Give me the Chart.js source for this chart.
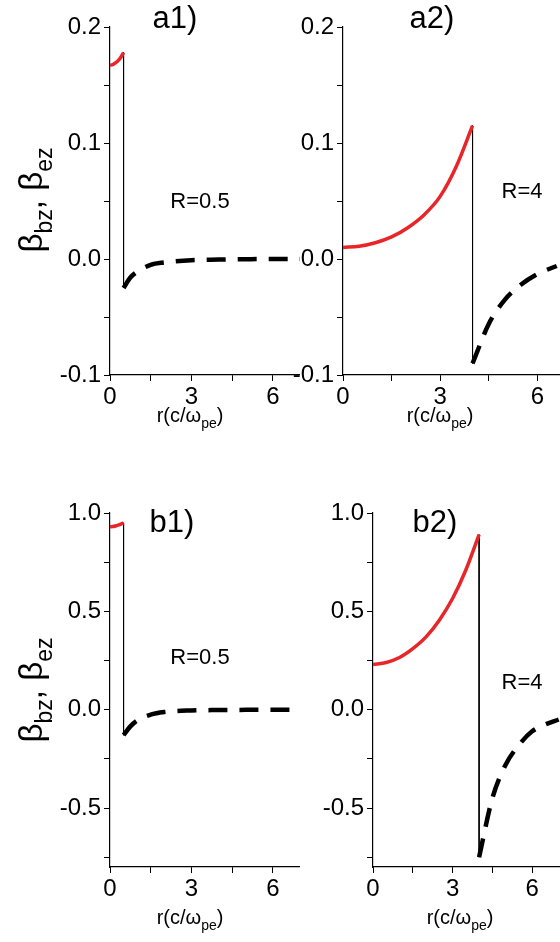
<!DOCTYPE html>
<html><head><meta charset="utf-8">
<script src="https://cdn.jsdelivr.net/npm/chart.js@4/dist/chart.umd.min.js"></script>
<style>
body{margin:0;background:#fff;width:560px;height:942px;position:relative;overflow:hidden}
canvas{position:absolute}
</style></head><body>
<canvas id="a1" style="left:0;top:0"></canvas>
<canvas id="a2" style="left:290px;top:0"></canvas>
<canvas id="b1" style="left:0;top:460px"></canvas>
<canvas id="b2" style="left:300px;top:460px"></canvas>
<script>
// a1: R=0.5
var a1RedR = [0, 0.1, 0.2, 0.3, 0.4, 0.5];
var a1RedV = [0.167, 0.1675, 0.169, 0.171, 0.174, 0.178];
var a1DashR = [0.5, 0.75, 1, 1.5, 2, 3, 4, 5, 6, 7];
var a1DashV = [-0.025, -0.016, -0.011, -0.005, -0.003, -0.001, -0.0005, -0.0002, 0, 0];
// a2: R=4
var a2RedR = [0, 0.5, 1, 1.5, 2, 2.5, 3, 3.5, 4];
var a2RedV = [0.010, 0.011, 0.014, 0.019, 0.027, 0.038, 0.054, 0.080, 0.115];
var a2DashR = [4, 4.5, 5, 5.5, 6, 6.6];
var a2DashV = [-0.090, -0.056, -0.035, -0.022, -0.013, -0.006];
// b1: R=0.5
var b1RedR = [0, 0.1, 0.2, 0.3, 0.4, 0.5];
var b1RedV = [0.93, 0.931, 0.934, 0.938, 0.943, 0.95];
var b1DashR = [0.5, 0.75, 1, 1.5, 2, 3, 4, 5, 6, 7];
var b1DashV = [-0.13, -0.085, -0.055, -0.025, -0.012, -0.004, -0.002, -0.001, 0, 0];
// b2: R=4
var b2RedR = [0, 0.5, 1, 1.5, 2, 2.5, 3, 3.5, 4];
var b2RedV = [0.23, 0.24, 0.265, 0.31, 0.37, 0.455, 0.565, 0.71, 0.89];
var b2DashR = [4, 4.5, 5, 5.5, 6, 6.5, 7];
var b2DashV = [-0.75, -0.45, -0.28, -0.18, -0.11, -0.075, -0.05];

var FONT = '"Liberation Sans", Arial, sans-serif';

function pts(xs, ys) { return xs.map((x, i) => ({x: x, y: ys[i]})); }

function drawSeg(ctx, segs, x, y, size, align) {
  var w = 0;
  segs.forEach(s => { ctx.font = (s[1] ? size * 0.7 : size) + 'px ' + FONT; w += ctx.measureText(s[0]).width; });
  var cx = align == 'center' ? x - w / 2 : x;
  segs.forEach(s => {
    ctx.font = (s[1] ? size * 0.7 : size) + 'px ' + FONT;
    ctx.fillText(s[0], cx, s[1] ? y + size * 0.3 : y);
    cx += ctx.measureText(s[0]).width;
  });
}

var labelPlugin = {
  id: 'labels',
  afterDraw(chart, args, o) {
    var ctx = chart.ctx;
    ctx.save();
    ctx.fillStyle = '#000';
    ctx.textBaseline = 'alphabetic';
    o.items.forEach(t => {
      if (t.rot) {
        ctx.save();
        ctx.translate(t.x, t.y);
        ctx.rotate(-Math.PI / 2);
        drawSeg(ctx, t.segs, 0, 0, t.size, 'center');
        ctx.restore();
      } else {
        drawSeg(ctx, t.segs, t.x, t.y, t.size, 'center');
      }
    });
    ctx.restore();
  }
};

function makePanel(id, w, h, yw, top, xh, xmax, ymin, ymax, ystep, ymajor, red, dash, jump, items) {
  var c = document.getElementById(id);
  c.width = w; c.height = h;
  c.style.width = w + 'px'; c.style.height = h + 'px';
  new Chart(c, {
    type: 'line',
    data: {
      datasets: [
        {data: red, borderColor: '#e8262a', borderWidth: 3.5, pointRadius: 0, cubicInterpolationMode: 'monotone'},
        {data: jump, borderColor: '#000', borderWidth: 1, pointRadius: 0},
        {data: dash, borderColor: '#000', borderWidth: 4.5, borderDash: [19, 12], pointRadius: 0, cubicInterpolationMode: 'monotone'}
      ]
    },
    options: {
      responsive: false, animation: false, devicePixelRatio: 1,
      layout: {padding: {top: top, left: 0, right: 0, bottom: 0}},
      plugins: {legend: {display: false}, tooltip: {enabled: false}, labels: {items: items}},
      scales: {
        x: {
          type: 'linear', min: 0, max: xmax,
          afterFit(s) { s.height = xh; },
          afterBuildTicks(s) { s.ticks = [0, 1.5, 3, 4.5, 6].map(v => ({value: v})); },
          grid: {drawOnChartArea: false, tickLength: 6, color: '#000'},
          border: {color: '#000', width: 1.2},
          ticks: {color: '#000', font: {size: 24, family: FONT}, padding: 2, maxRotation: 0,
            callback: v => (v % 3 == 0 ? String(v) : '')}
        },
        y: {
          min: ymin, max: ymax,
          afterFit(s) { s.width = yw; },
          afterBuildTicks(s) {
            var t = [];
            for (var v = Math.ceil(ymin / ystep - 1e-6) * ystep; v <= ymax + 1e-9; v += ystep) t.push({value: Math.round(v * 1000) / 1000});
            s.ticks = t;
          },
          grid: {drawOnChartArea: false, tickLength: 6, color: '#000'},
          border: {color: '#000', width: 1.2},
          ticks: {color: '#000', font: {size: 24, family: FONT}, padding: 3,
            callback: v => (Math.abs(v / ymajor - Math.round(v / ymajor)) < 1e-6 ? v.toFixed(1) : '')}
        }
      }
    },
    plugins: [labelPlugin]
  });
}

var ytitle = [['β', 0], ['bz', 1], [', β', 0], ['ez', 1]];
var xtitle = [['r(c/ω', 0], ['pe', 1], [')', 0]];

makePanel('a1', 300, 440, 110, 27, 65, 7, -0.1, 0.2, 0.05, 0.1,
  pts(a1RedR, a1RedV), pts(a1DashR, a1DashV), pts([0.5, 0.5], [a1RedV[5], a1DashV[0]]),
  [{segs: [['a1)', 0]], x: 175, y: 28, size: 31},
   {segs: ytitle, x: 42, y: 200, size: 33, rot: true},
   {segs: [['R=0.5', 0]], x: 200, y: 208, size: 22},
   {segs: xtitle, x: 190, y: 422, size: 20}]);

makePanel('a2', 270, 440, 53, 27, 65, 6.7, -0.1, 0.2, 0.05, 0.1,
  pts(a2RedR, a2RedV), pts(a2DashR, a2DashV), pts([4, 4], [a2RedV[8], a2DashV[0]]),
  [{segs: [['a2)', 0]], x: 142, y: 28, size: 31},
   {segs: [['R=4', 0]], x: 232, y: 198, size: 22},
   {segs: xtitle, x: 150, y: 422, size: 20}]);

makePanel('b1', 300, 482, 110, 53, 75, 7, -0.8, 1.0, 0.25, 0.5,
  pts(b1RedR, b1RedV), pts(b1DashR, b1DashV), pts([0.5, 0.5], [b1RedV[5], b1DashV[0]]),
  [{segs: [['b1)', 0]], x: 172, y: 72, size: 31},
   {segs: ytitle, x: 42, y: 230, size: 33, rot: true},
   {segs: [['R=0.5', 0]], x: 200, y: 204, size: 22},
   {segs: xtitle, x: 190, y: 464, size: 20}]);

makePanel('b2', 260, 482, 73, 53, 75, 7.05, -0.8, 1.0, 0.25, 0.5,
  pts(b2RedR, b2RedV), pts(b2DashR, b2DashV), pts([4, 4], [b2RedV[8], b2DashV[0]]),
  [{segs: [['b2)', 0]], x: 135, y: 72, size: 31},
   {segs: [['R=4', 0]], x: 222, y: 229, size: 22},
   {segs: xtitle, x: 160, y: 464, size: 20}]);
</script>
</body></html>
